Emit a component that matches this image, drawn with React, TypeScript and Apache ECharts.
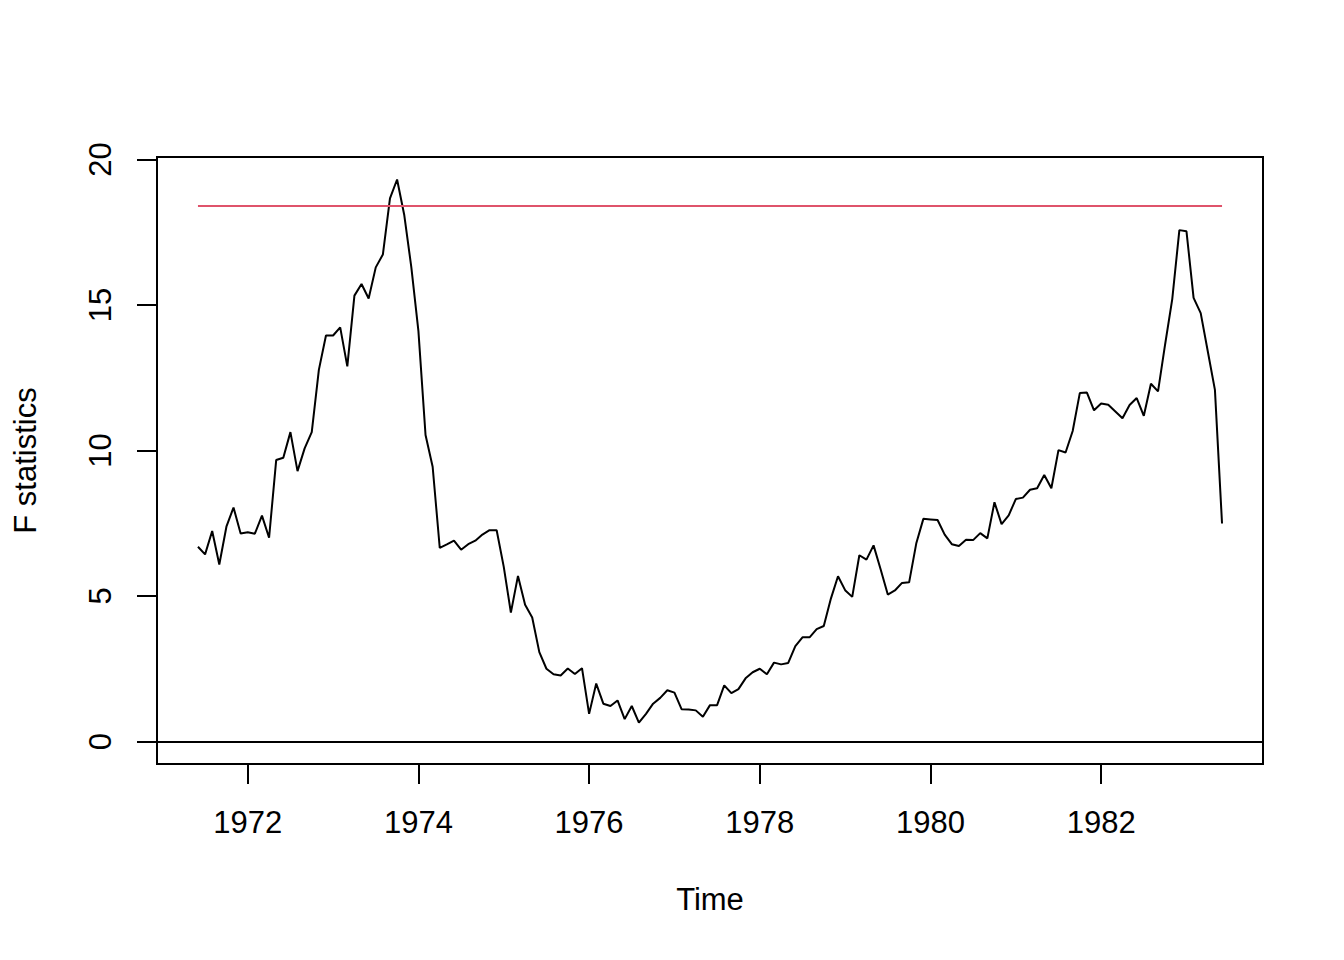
import React, { useEffect, useRef } from "react";
import * as echarts from "echarts";

// Monthly time series (ts start = 1971, period 6, frequency 12)
const startYear = 1971;
const startPeriod = 6;
const frequency = 12;

const fstats = [
  6.69, 6.43, 7.23, 6.08, 7.38, 8.04, 7.15, 7.19, 7.14, 7.76, 7.0, 9.67,
  9.75, 10.63, 9.29, 10.07, 10.63, 12.77, 13.95, 13.95, 14.23, 12.89, 15.32, 15.72,
  15.22, 16.29, 16.73, 18.66, 19.31, 18.1, 16.3, 14.1, 10.53, 9.44, 6.65, 6.77,
  6.9, 6.59, 6.78, 6.9, 7.11, 7.26, 7.26, 6.0, 4.43, 5.69, 4.7, 4.26,
  3.07, 2.5, 2.31, 2.27, 2.51, 2.32, 2.52, 0.95, 1.99, 1.3, 1.22, 1.41,
  0.77, 1.22, 0.65, 0.95, 1.3, 1.5, 1.76, 1.68, 1.11, 1.1, 1.07, 0.85,
  1.25, 1.25, 1.93, 1.66, 1.8, 2.17, 2.38, 2.5, 2.31, 2.71, 2.65, 2.7,
  3.28, 3.58, 3.58, 3.86, 3.97, 4.91, 5.68, 5.2, 4.97, 6.4, 6.25, 6.74,
  5.91, 5.05, 5.19, 5.45, 5.47, 6.8, 7.65, 7.63, 7.61, 7.11, 6.78, 6.72,
  6.93, 6.92, 7.16, 6.98, 8.22, 7.47, 7.77, 8.33, 8.38, 8.65, 8.7, 9.16,
  8.7, 10.01, 9.93, 10.67, 11.97, 11.99, 11.38, 11.61, 11.57, 11.34, 11.11, 11.56,
  11.8, 11.19, 12.29, 12.03, 13.65, 15.2, 17.57, 17.53, 15.24, 14.72, 13.4, 12.08,
  7.49,
];

const criticalValue = 18.4;
const xTicks = [1972, 1974, 1976, 1978, 1980, 1982];
const yTicks = [0, 5, 10, 15, 20];
const xTitle = "Time";
const yTitle = "F statistics";

const FONT = "'Liberation Sans', Arial, Helvetica, sans-serif";

export default function App() {
  const ref = useRef<HTMLDivElement>(null);

  useEffect(() => {
    if (!ref.current) return;
    const chart = echarts.init(ref.current, null, { renderer: "svg" });

    const times = fstats.map((_, i) => startYear + (startPeriod - 1 + i) / frequency);
    const t0 = times[0];
    const t1 = times[times.length - 1];
    const xPad = (t1 - t0) * 0.04;
    const yMaxData = Math.max(...fstats);
    const yPad = yMaxData * 0.04;

    const lineData = fstats.map((v, i) => [times[i], v]);
    const boundData = [
      [t0, criticalValue],
      [t1, criticalValue],
    ];

    const tickStyle = { color: "#000", width: 2 };

    chart.setOption({
      animation: false,
      backgroundColor: "#fff",
      grid: {
        left: 157,
        right: 81,
        top: 157,
        bottom: 196,
        show: true,
        borderColor: "#000",
        borderWidth: 2,
        backgroundColor: "transparent",
        containLabel: false,
      },
      xAxis: {
        type: "value",
        min: t0 - xPad,
        max: t1 + xPad,
        name: xTitle,
        nameLocation: "middle",
        nameGap: 120,
        nameTextStyle: { fontFamily: FONT, fontSize: 31, color: "#000" },
        axisLine: { show: false, onZero: false },
        splitLine: { show: false },
        axisTick: {
          show: true,
          customValues: xTicks,
          length: 20,
          lineStyle: tickStyle,
        },
        axisLabel: {
          customValues: xTicks,
          margin: 43,
          fontFamily: FONT,
          fontSize: 31,
          color: "#000",
          formatter: (v: number) => String(v),
        },
      },
      yAxis: {
        type: "value",
        min: -yPad,
        max: yMaxData + yPad,
        name: yTitle,
        nameLocation: "middle",
        nameGap: 116,
        nameRotate: 90,
        nameTextStyle: { fontFamily: FONT, fontSize: 31, color: "#000" },
        axisLine: { show: false, onZero: false },
        splitLine: { show: false },
        axisTick: {
          show: true,
          customValues: yTicks,
          length: 20,
          lineStyle: tickStyle,
        },
        axisLabel: {
          customValues: yTicks,
          rotate: 90,
          margin: 41,
          fontFamily: FONT,
          fontSize: 31,
          color: "#000",
          formatter: (v: number) => String(v),
        },
      },
      series: [
        {
          type: "line",
          data: lineData,
          showSymbol: false,
          symbol: "none",
          lineStyle: { color: "#000", width: 2 },
          silent: true,
          markLine: {
            silent: true,
            symbol: ["none", "none"],
            label: { show: false },
            lineStyle: { color: "#000", width: 2, type: "solid" },
            data: [{ yAxis: 0 }],
          },
        },
        {
          type: "line",
          data: boundData,
          showSymbol: false,
          symbol: "none",
          lineStyle: { color: "#DF536B", width: 2 },
          silent: true,
        },
      ],
    });

    return () => chart.dispose();
  }, []);

  return (
    <div
      ref={ref}
      style={{ position: "fixed", left: 0, top: 0, width: 1344, height: 960, background: "#fff" }}
    />
  );
}
